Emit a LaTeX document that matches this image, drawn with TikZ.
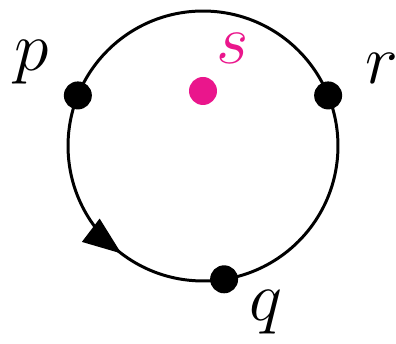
\documentclass[tikz,border=0pt]{standalone}
\usepackage{xcolor}
\usepackage{tikz}
\usetikzlibrary{arrows.meta,decorations.markings}
\definecolor{spink}{RGB}{234,22,140}
\tikzset{
    ptdot/.style={
        circle, fill=black, inner sep=0pt,
        minimum size=0.56cm
    },
    ptlabel/.style={
        inner sep=0pt, font=\fontsize{24.88}{30}\selectfont, scale=1.6
    }
}
\begin{document}
\begin{tikzpicture}[x=0.02cm, y=0.02cm]
    \useasboundingbox (0,0) rectangle (396,344);
    % Loop
    \coordinate (O) at (203,198);
    \draw[line width=1.7pt, postaction={decorate},
        decoration={markings, mark=at position 0.6467 with
            {\arrow{Triangle[length=0.77cm, width=0.57cm]}}}]
        (O) circle[radius=2.7cm];
    % Points
    \node[ptdot] (p) at ([shift={(O)}]158:2.7cm) {};
    \node[ptdot] (r) at ([shift={(O)}]22:2.7cm) {};
    \node[ptdot] (q) at ([shift={(O)}]-81:2.7cm) {};
    \node[ptdot, fill=spink] (s) at (203,253) {};
    % Labels
    \node[ptlabel] (plab) at (32,282) {$p$};
    \node[ptlabel] (rlab) at (382,276) {$r$};
    \node[ptlabel] (qlab) at (266,32) {$q$};
    \node[ptlabel, text=spink] (slab) at (233,296) {$s$};
\end{tikzpicture}
\end{document}
